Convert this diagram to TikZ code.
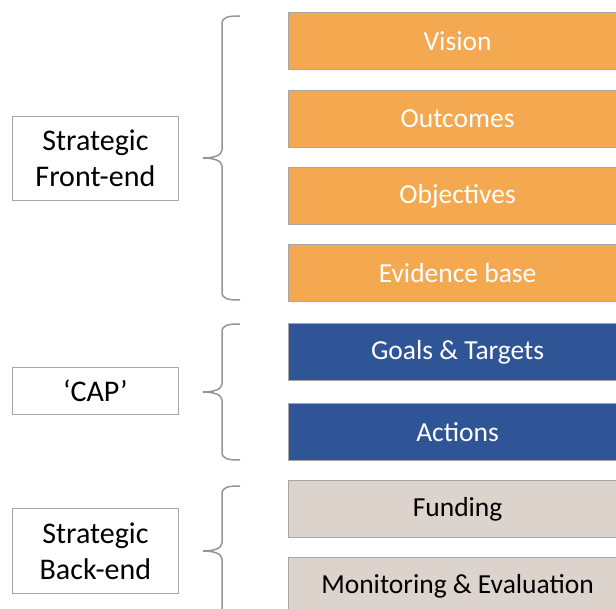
\documentclass[tikz,border=0pt]{standalone}
\usepackage{fontspec}
\setmainfont{Carlito}
\definecolor{orng}{HTML}{F4A950}
\definecolor{blu}{HTML}{2F5597}
\definecolor{beige}{HTML}{DCD3CD}
\definecolor{edge}{HTML}{A6A6A6}
\begin{document}
\begin{tikzpicture}[x=1pt,y=-1pt,
  rbox/.style={draw=edge,line width=1.2pt,minimum width=338pt,minimum height=57pt,anchor=north west,inner sep=0pt,font=\fontsize{27.5}{32}\selectfont},
  obox/.style={rbox,fill=orng,text=white},
  bbox/.style={rbox,fill=blu,text=white},
  gbox/.style={rbox,fill=beige,text=black},
  lbox/.style={draw=edge,line width=0.8pt,fill=white,minimum width=166pt,anchor=north west,inner sep=0pt,align=center,font=\fontsize{30}{36}\selectfont},
  brc/.style={draw=edge!90!black,line width=1.5pt}]
\useasboundingbox (0,0) rectangle (616,609);
\node[obox] (vis) at (288,12) {Vision};
\node[obox] (out) at (288,90) {Outcomes};
\node[obox] (obj) at (288,167) {Objectives};
\node[obox] (evi) at (288,244) {Evidence base};
\node[bbox] (goa) at (288,323) {Goals \& Targets};
\node[bbox] (act) at (288,403) {Actions};
\node[gbox] (fun) at (288,480) {Funding};
\node[gbox] (mon) at (288,557) {Monitoring \& Evaluation};
\node[lbox,minimum height=84pt] (sfe) at (12,116) {Strategic\\Front-end};
\node[lbox,minimum height=47pt] (cap) at (12,367) {‘CAP’};
\node[lbox,minimum height=85pt] (sbe) at (12,508) {Strategic\\Back-end};
\draw[brc] (240,16) .. controls (228,16) and (222,17) .. (222,24) -- (222,150)
  .. controls (222,156) and (212,158) .. (203,158)
  .. controls (212,158) and (222,160) .. (222,166) -- (222,292)
  .. controls (222,299) and (228,300) .. (240,300);
\draw[brc] (240,324) .. controls (228,324) and (222,325) .. (222,332) -- (222,384)
  .. controls (222,390) and (212,392) .. (203,392)
  .. controls (212,392) and (222,394) .. (222,400) -- (222,452)
  .. controls (222,459) and (228,460) .. (240,460);
\draw[brc] (240,486) .. controls (228,486) and (222,487) .. (222,494) -- (222,543)
  .. controls (222,549) and (212,551) .. (203,551)
  .. controls (212,551) and (222,553) .. (222,559) -- (222,615);
\end{tikzpicture}
\end{document}
